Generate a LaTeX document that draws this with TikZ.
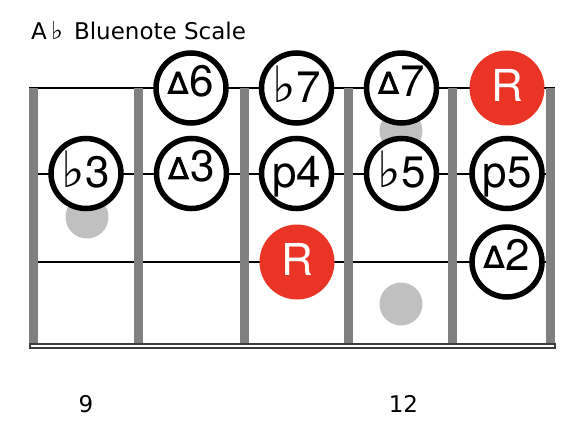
\documentclass[tikz,border=0pt]{standalone}
\usepackage{fontspec}
\setmainfont{TeX Gyre Heros}
\newfontfamily\dejavu{DejaVu Sans}
\newfontfamily\trifont[FakeBold=2.5]{DejaVu Sans}
\definecolor{fretgray}{RGB}{128,128,128}
\definecolor{markgray}{RGB}{192,192,192}
\definecolor{rootred}{RGB}{233,52,38}
\definecolor{nutgray}{RGB}{60,60,60}
\newcommand{\flt}{{\dejavu\fontsize{50}{50}\selectfont ♭}\hspace{0.5pt}}
\newcommand{\tri}{\raisebox{3pt}{\trifont\fontsize{30}{30}\selectfont ∆}\hspace{1.5pt}}
\begin{document}
\begin{tikzpicture}[x=1pt,y=-1pt,
  strline/.style={draw=black, line width=1.6pt},
  fretbar/.style={fill=fretgray, draw=none},
  marker/.style={circle, fill=markgray, draw=none, minimum size=43pt, inner sep=0pt},
  notebase/.style={circle, inner sep=0pt, font=\fontsize{44}{44}\selectfont, text depth=0pt},
  note/.style={notebase, draw=black, line width=5.5pt, fill=white, minimum size=70pt},
  flatnote/.style={note, text height=29pt},
  trinote/.style={note, text height=17pt},
  root/.style={notebase, fill=rootred, text=white, minimum size=75pt, text height=27pt},
  fretnum/.style={font=\dejavu\fontsize{23}{23}\selectfont, anchor=base, inner sep=0pt},
  title/.style={font=\dejavu\fontsize{23}{23}\selectfont, anchor=base west, inner sep=0pt}
]
\useasboundingbox (0,0) rectangle (582,428);
% title
\node[title] (title) at (31,40) {A{\fontsize{25}{25}\selectfont\,♭}\, Bluenote Scale};
% strings
\foreach \y in {88,174,262} \draw[strline] (29,\y) -- (555,\y);
% frets
\foreach \x in {33.5,138,244,348,452,550.5} \fill[fretbar] (\x-4.5,88) rectangle (\x+4.5,348);
% bottom line
\draw[draw=nutgray, line width=2pt, fill=white] (29.5,343.5) rectangle (555,347.8);
% fret markers
\node[marker] (m9) at (87,217) {};
\node[marker] (m12a) at (401,131) {};
\node[marker] (m12b) at (401,304) {};
% notes string 1
\node[trinote] (n6) at (191,88) {\tri 6};
\node[flatnote] (nb7) at (296.5,88) {\flt 7};
\node[trinote] (n7) at (401.5,88) {\tri 7};
\node[root] (r1) at (507,88) {R};
% string 2
\node[flatnote] (nb3) at (86,173.5) {\flt 3};
\node[trinote] (n3) at (191.5,173.5) {\tri 3};
\node[flatnote] (np4) at (296.5,173.5) {p4};
\node[flatnote] (nb5) at (401.5,173.5) {\flt 5};
\node[flatnote] (np5) at (507,173.5) {p5};
% string 3
\node[root] (r2) at (297,262) {R};
\node[trinote] (n2) at (507,262) {\tri 2};
% fret numbers
\node[fretnum] (f9) at (86,412) {9};
\node[fretnum] (f12) at (403.5,412) {12};
\end{tikzpicture}
\end{document}
